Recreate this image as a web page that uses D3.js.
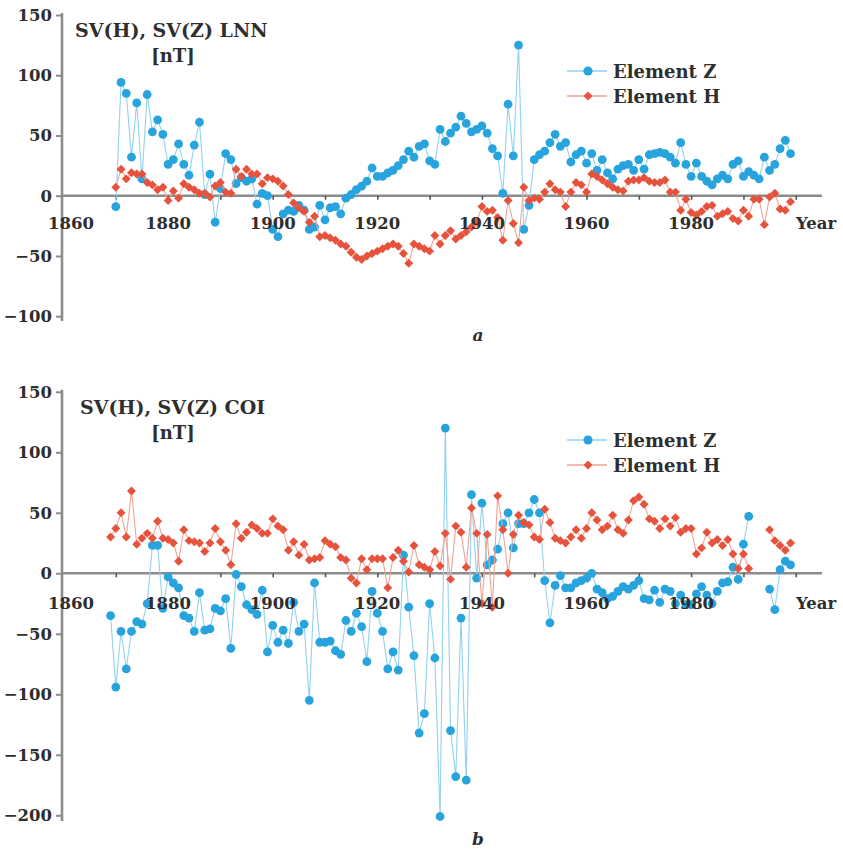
<!DOCTYPE html>
<html>
<head>
<meta charset="utf-8">
<script src="https://cdn.jsdelivr.net/npm/d3@7"></script>
<style>
  html, body { margin: 0; padding: 0; background: #ffffff; }
  svg { display: block; }
  text { font-family: "DejaVu Serif", "Liberation Serif", serif; }
</style>
</head>
<body>
<svg id="chart" width="843" height="849"></svg>
<script>
// Annual secular variation of H and Z (nT), observatory LNN, from 1870
const lnnStart = 1870;
const lnnZ = [
  -9, 94, 85, 32, 77, 14, 84, 53, 63, 51,
  26, 30, 43, 26, 17, 42, 61, 1, 18, -22,
  6, 35, 30, 10, 15, 12, 14, -7, 2, 0,
  -28, -34, -15, -12, -13, -8, -12, -28, -26, -8,
  -20, -10, -9, -15, -2, 1, 5, 8, 12, 23,
  16, 16, 19, 21, 25, 30, 37, 32, 41, 43,
  29, 26, 55, 45, 52, 57, 66, 60, 53, 55,
  58, 52, 39, 33, 2, 76, 33, 125, -28, -8,
  30, 34, 37, 44, 51, 41, 44, 28, 34, 37,
  27, 35, 21, 30, 19, 14, 22, 25, 26, 21,
  30, 22, 34, 35, 36, 35, 32, 27, 44, 26,
  16, 27, 16, 12, 9, 14, 17, 14, 26, 29,
  16, 20, 17, 14, 32, 21, 26, 39, 46, 35
];
const lnnH = [
  7, 22, 14, 19, 18, 18, 11, 9, 5, 7,
  -4, 4, -2, 10, 7, 5, 2, 2, -1, 8,
  11, 3, 2, 22, 16, 22, 18, 18, 10, 15,
  14, 12, 8, 1, -6, -10, -13, -22, -17, -34,
  -33, -35, -37, -40, -42, -47, -51, -53, -50, -48,
  -46, -44, -42, -40, -42, -48, -56, -40, -42, -44,
  -46, -33, -40, -33, -29, -36, -33, -30, -26, -22,
  -9, -13, -12, -18, -37, -4, -23, -39, 7, -4,
  -2, -3, 3, 10, 5, 3, -9, 3, 11, 9,
  3, 18, 16, 13, 10, 7, 5, 4, 12, 13,
  13, 15, 12, 11, 11, 13, 3, 3, -12, -3,
  -14, -16, -13, -9, -8, -17, -15, -13, -19, -21,
  -12, -17, -3, -3, -24, -1, 2, -11, -12, -5
];

// Annual secular variation of H and Z (nT), observatory COI, from 1869 (null = no data)
const coiStart = 1869;
const coiZ = [
  -35,
  -94, -48, -79, -48, -40, -42, -25, 23, 23, -29,
  -3, -8, -12, -35, -37, -48, -16, -47, -46, -29,
  -31, -21, -62, -1, -11, -26, -30, -34, -14, -65,
  -43, -57, -47, -58, -24, -48, -42, -105, -8, -57,
  -57, -56, -64, -67, -39, -48, -33, -44, -73, -15,
  -33, -48, -79, -65, -80, 15, -28, -68, -132, -116,
  -25, -70, -201, 120, -130, -168, -37, -171, 65, -4,
  58, 7, 11, 20, 41, 50, 21, 41, 41, 50,
  61, 50, -6, -41, -10, -2, -12, -12, -8, -6,
  -4, 0, -13, -16, -21, -19, -15, -11, -13, -10,
  -6, -21, -22, -14, -24, -13, -15, -25, -18, -26,
  -26, -17, -11, -18, -25, -15, -8, -7, 5, -5,
  24, 47, null, null, null, -13, -30, 3, 10, 7
];
const coiH = [
  30,
  37, 50, 30, 68, 24, 29, 33, 29, 43, 29,
  28, 25, 10, 36, 27, 26, 25, 18, 25, 37,
  26, 19, 7, 41, 29, 34, 40, 37, 33, 33,
  45, 39, 36, 19, 26, 15, 24, 11, 12, 13,
  27, 24, 22, 13, 11, -4, -8, 12, 3, 12,
  12, 12, -12, 13, 19, 10, 1, 23, 7, 5,
  3, 18, 6, 33, -5, 39, 34, 5, 54, 33,
  -25, 32, -28, 64, 36, 0, 32, 48, 42, 40,
  30, 28, 53, 42, 29, 27, 25, 30, 36, 29,
  37, 50, 44, 36, 39, 48, 36, 33, 44, 60,
  63, 57, 45, 43, 37, 45, 39, 46, 34, 37,
  37, 16, 21, 34, 25, 28, 23, 28, 16, 4,
  16, 4, null, null, null, 36, 27, 23, 19, 25
];

const yearLabels = [1860, 1880, 1900, 1920, 1940, 1960, 1980];
const yearMinorTicks = [1870, 1880, 1890, 1900, 1910, 1920, 1930, 1940, 1950, 1960, 1970, 1980, 1990, 2000];
const lnnValueTicks = [-100, -50, 0, 50, 100, 150];
const coiValueTicks = [-200, -150, -100, -50, 0, 50, 100, 150];
const seriesNames = ["Element Z", "Element H"];

const svg = d3.select("#chart");
svg.append("rect").attr("width", 843).attr("height", 849).attr("fill", "#ffffff");

const zColor = "#27a3dd", zLine = "#92d2f0";
const hColor = "#e6523b", hLine = "#f2a394";
const axisColor = "#8c8c8c";
const textColor = "#2e2e2e";

const x = d3.scaleLinear().domain([1860, 2005]).range([63.5, 821.9]);

function toPoints(start, values) {
  return values.map((v, i) => ({ year: start + i, v }));
}

function drawPanel(cfg) {
  const y = d3.scaleLinear().domain(cfg.domain).range(cfg.range);
  const g = svg.append("g");

  // vertical value axis
  g.append("line")
    .attr("x1", 62).attr("x2", 62)
    .attr("y1", y(cfg.domain[1]) - 2).attr("y2", cfg.axisBottom)
    .attr("stroke", axisColor).attr("stroke-width", 2.6);

  const yAxis = g.append("g")
    .attr("transform", "translate(62,0)")
    .call(d3.axisLeft(y).tickValues(cfg.valueTicks).tickSize(6).tickPadding(4).tickFormat(d3.format("d")));
  yAxis.select(".domain").remove();
  yAxis.selectAll(".tick line").attr("stroke", axisColor).attr("stroke-width", 2);
  yAxis.selectAll(".tick text")
    .attr("fill", textColor)
    .style("font-family", '"DejaVu Serif", serif')
    .style("font-size", "16.5px").style("font-weight", "bold");

  // horizontal zero line with decade ticks
  const xAxis = g.append("g")
    .attr("transform", `translate(0,${y(0)})`)
    .call(d3.axisBottom(x).tickValues(yearMinorTicks).tickSize(4).tickFormat(""));
  xAxis.select(".domain").attr("stroke", axisColor).attr("stroke-width", 2.6)
    .attr("d", `M62,0H${x.range()[1]}`);
  xAxis.selectAll(".tick line").attr("stroke", "#555").attr("stroke-width", 1.6);

  // title
  g.append("text")
    .attr("x", cfg.titleX).attr("y", cfg.titleY)
    .attr("fill", textColor)
    .style("font-size", "19px").style("font-weight", "bold")
    .text(cfg.title);
  g.append("text")
    .attr("x", 173).attr("y", cfg.titleY + 25)
    .attr("text-anchor", "middle")
    .attr("fill", textColor)
    .style("font-size", "18px").style("font-weight", "bold")
    .text("[nT]");

  const line = d3.line()
    .defined(d => d.v !== null)
    .x(d => x(d.year))
    .y(d => y(d.v));

  const diamond = d3.symbol().type(d3.symbolSquare).size(40);

  const series = [
    { name: seriesNames[0], pts: toPoints(cfg.start, cfg.z), color: zColor, lineColor: zLine, shape: "circle" },
    { name: seriesNames[1], pts: toPoints(cfg.start, cfg.h), color: hColor, lineColor: hLine, shape: "diamond" }
  ];

  series.forEach(s => {
    g.append("path")
      .datum(s.pts)
      .attr("d", line)
      .attr("fill", "none")
      .attr("stroke", s.lineColor)
      .attr("stroke-width", 1.1);

    const valid = s.pts.filter(d => d.v !== null);
    if (s.shape === "circle") {
      g.selectAll(null).data(valid).join("circle")
        .attr("cx", d => x(d.year)).attr("cy", d => y(d.v))
        .attr("r", 4.4).attr("fill", s.color);
    } else {
      g.selectAll(null).data(valid).join("path")
        .attr("d", diamond)
        .attr("transform", d => `translate(${x(d.year)},${y(d.v)}) rotate(45)`)
        .attr("fill", s.color);
    }
  });

  // year labels sit above the marks
  g.selectAll("text.yearlab")
    .data(yearLabels)
    .join("text")
    .attr("class", "yearlab")
    .attr("x", d => d === 1860 ? x(d) + 7.5 : x(d))
    .attr("y", cfg.labelBaseline)
    .attr("text-anchor", "middle")
    .attr("fill", textColor)
    .style("font-size", "16.5px").style("font-weight", "bold")
    .text(d => d);

  g.append("text")
    .attr("x", 796).attr("y", cfg.labelBaseline)
    .attr("fill", textColor)
    .style("font-size", "16.5px").style("font-weight", "bold")
    .text("Year");

  // legend
  const lg = g.append("g");
  series.forEach((s, i) => {
    const ly = cfg.legendY + i * 25;
    lg.append("line")
      .attr("x1", 567).attr("x2", 607).attr("y1", ly).attr("y2", ly)
      .attr("stroke", s.lineColor).attr("stroke-width", 1.4);
    if (s.shape === "circle") {
      lg.append("circle").attr("cx", 588).attr("cy", ly).attr("r", 4.6).attr("fill", s.color);
    } else {
      lg.append("path").attr("d", diamond)
        .attr("transform", `translate(588,${ly}) rotate(45)`).attr("fill", s.color);
    }
    lg.append("text")
      .attr("x", 613).attr("y", ly + 6.5)
      .attr("fill", textColor)
      .style("font-size", "18px").style("font-weight", "bold")
      .text(s.name);
  });

  g.append("text")
    .attr("x", 478).attr("y", cfg.letterY)
    .attr("text-anchor", "middle")
    .attr("fill", textColor)
    .style("font-size", "17px").style("font-style", "italic").style("font-weight", "bold")
    .text(cfg.letter);
}

drawPanel({
  start: lnnStart, z: lnnZ, h: lnnH,
  domain: [-100, 150], range: [316.2, 15],
  valueTicks: lnnValueTicks, axisBottom: 321,
  labelBaseline: 229,
  title: "SV(H), SV(Z) LNN", titleX: 75, titleY: 37,
  legendY: 71, letter: "a", letterY: 341
});

drawPanel({
  start: coiStart, z: coiZ, h: coiH,
  domain: [-200, 150], range: [815.3, 391.8],
  valueTicks: coiValueTicks, axisBottom: 821,
  labelBaseline: 609,
  title: "SV(H), SV(Z) COI", titleX: 80, titleY: 414,
  legendY: 440, letter: "b", letterY: 845
});
</script>
</body>
</html>
